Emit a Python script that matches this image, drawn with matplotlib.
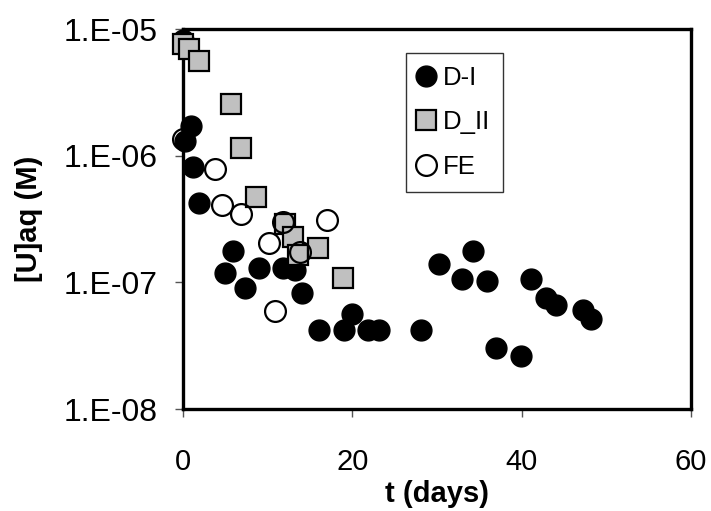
import matplotlib
matplotlib.use("Agg")
import matplotlib.pyplot as plt
from matplotlib.ticker import FixedLocator, NullLocator

plt.rcParams['font.family'] = ['Liberation Sans', 'DejaVu Sans']

# D-I (filled black circles)
di_t = [0.0, 0.25, 0.93, 1.2, 1.9, 4.96, 5.9, 7.3, 8.97, 11.8, 13.2, 14.1,
        16.06, 19.0, 20.0, 21.9, 23.1, 28.06, 30.2, 33.0, 34.2, 35.85, 37.0,
        39.9, 41.1, 42.9, 44.1, 47.2, 48.2]
di_u = [8.2e-6, 1.3e-6, 1.71e-6, 8.2e-7, 4.26e-7, 1.19e-7, 1.78e-7, 8.98e-8,
        1.29e-7, 1.29e-7, 1.25e-7, 8.3e-8, 4.2e-8, 4.2e-8, 5.6e-8, 4.2e-8,
        4.2e-8, 4.2e-8, 1.39e-7, 1.06e-7, 1.78e-7, 1.03e-7, 3.02e-8, 2.6e-8,
        1.06e-7, 7.5e-8, 6.6e-8, 6.05e-8, 5.15e-8]

# D_II (gray squares)
dii_t = [0.0, 0.7, 1.9, 5.67, 6.85, 8.6, 12.0, 13.0, 13.6, 16.0, 18.85]
dii_u = [7.6e-6, 6.95e-6, 5.6e-6, 2.55e-6, 1.14e-6, 4.7e-7, 2.9e-7, 2.3e-7,
         1.64e-7, 1.86e-7, 1.08e-7]

# FE (open circles)
fe_t = [0.0, 3.78, 4.57, 6.8, 10.1, 10.86, 11.84, 13.8, 16.96]
fe_u = [1.35e-6, 7.8e-7, 4.08e-7, 3.45e-7, 2.04e-7, 5.98e-8, 3.0e-7, 1.75e-7, 3.1e-7]

xticks = [0, 20, 40, 60]
yticks = [1e-8, 1e-7, 1e-6, 1e-5]
ytick_labels = ["1.E-08", "1.E-07", "1.E-06", "1.E-05"]

fig = plt.figure(figsize=(7.11, 5.11), dpi=100)
ax = fig.add_axes([183/711, 1-409/511, (691-183)/711, (409-29)/511])

ax.plot(di_t, di_u, linestyle='none', marker='o', markersize=15,
        markerfacecolor='black', markeredgecolor='black', markeredgewidth=1.0,
        label='D-I', clip_on=False, zorder=3)
ax.plot(dii_t, dii_u, linestyle='none', marker='s', markersize=14,
        markerfacecolor='#c0c0c0', markeredgecolor='black', markeredgewidth=1.6,
        label='D_II', clip_on=False, zorder=4)
ax.plot(fe_t, fe_u, linestyle='none', marker='o', markersize=15,
        markerfacecolor='none', markeredgecolor='black', markeredgewidth=1.6,
        label='FE', clip_on=False, zorder=5)

ax.set_yscale('log')
ax.set_xlim(0, 60)
ax.set_ylim(1e-8, 1e-5)
ax.xaxis.set_major_locator(FixedLocator(xticks))
ax.yaxis.set_major_locator(FixedLocator(yticks))
ax.yaxis.set_minor_locator(NullLocator())
ax.xaxis.set_minor_locator(NullLocator())
ax.set_yticklabels(ytick_labels)

for s in ax.spines.values():
    s.set_linewidth(2.4)
    s.set_color('black')

ax.tick_params(axis='both', which='major', direction='out', length=6,
               width=1.0, color='#555555', labelsize=21)
ax.tick_params(axis='y', pad=12, labelsize=23)
ax.tick_params(axis='x', pad=22)

ax.set_xlabel('t (days)', fontsize=21, fontweight='bold')
ax.set_ylabel('[U]aq (M)', fontsize=21, fontweight='bold')
ax.xaxis.set_label_coords(0.5, -(480-409)/380)
ax.yaxis.set_label_coords((43-183)/508, 0.5)

leg = ax.legend(loc='upper left', bbox_to_anchor=((405.7-183)/508, 1-(52.7-29)/380),
                frameon=True, fancybox=False, fontsize=18.5, handletextpad=0.35,
                borderpad=0.5, labelspacing=0.8, handlelength=0.6,
                borderaxespad=0)
leg.get_frame().set_edgecolor('black')
leg.get_frame().set_linewidth(1.0)

fig.savefig('out.png', dpi=100)
